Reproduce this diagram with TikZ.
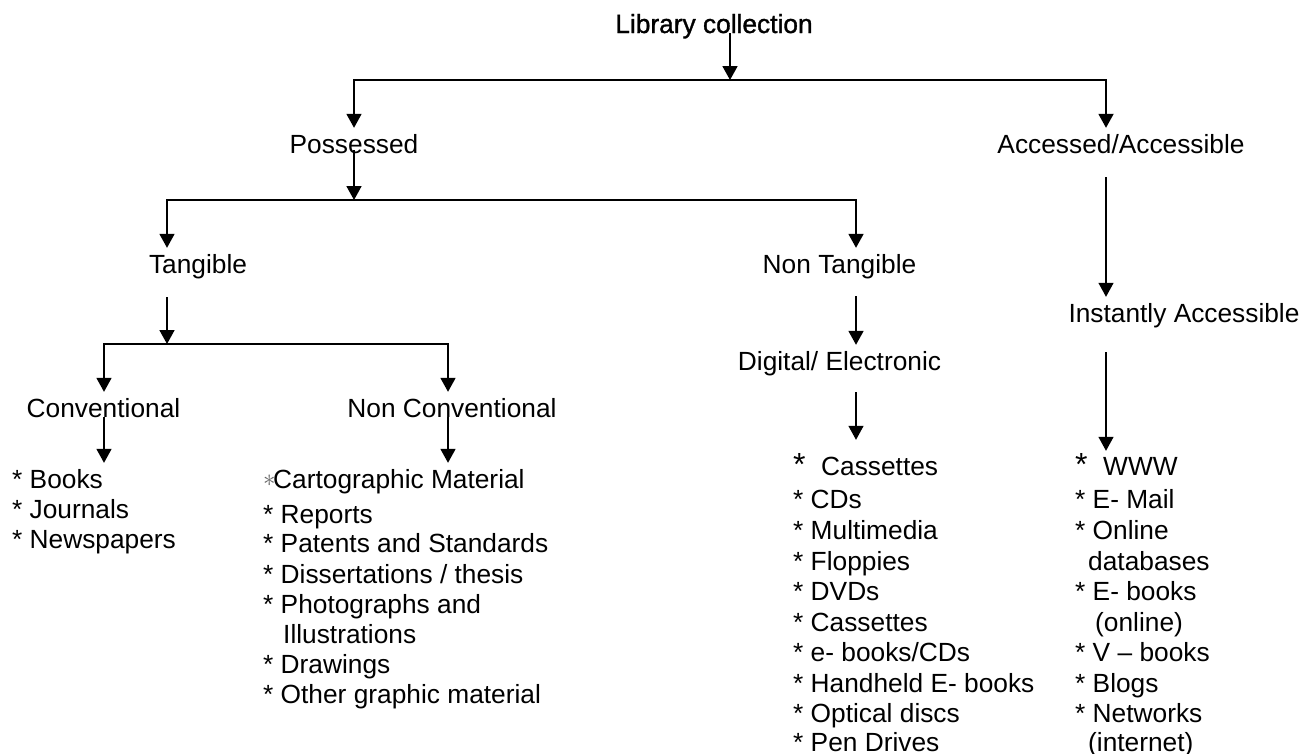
\documentclass[tikz,border=0pt]{standalone}
\usepackage{fontspec}
\setmainfont{Liberation Sans}
\newfontfamily\titlefont{Liberation Sans}[FakeBold=1.2]
\usetikzlibrary{arrows.meta,calc}
\newcommand{\bigast}{\makebox[28pt][l]{\fontsize{32}{32}\selectfont *}}
\newcommand{\grayast}{\makebox[10pt][l]{\color{black!60}\fontsize{24}{24}\selectfont\raisebox{1.5pt}{$\ast$}}}
\begin{document}
\begin{tikzpicture}[x=1pt,y=1pt,
  lbl/.style={anchor=base, inner xsep=0pt, inner ysep=6pt, text height=19pt, text depth=5.5pt, font=\fontsize{26.3}{30}\selectfont},
  item/.style={anchor=base west, inner sep=0pt, text height=19pt, text depth=5.5pt, font=\fontsize{26.3}{30}\selectfont},
  conn/.style={line width=1.8pt},
  arr/.style={conn, -{Triangle[width=15pt,length=14pt]}},
  thinarr/.style={arr, line width=1.4pt},
]
\useasboundingbox (0,0) rectangle (1309,-753);

% category labels
\node[lbl, font=\titlefont\fontsize{26.3}{30}\selectfont] (title) at (714,-33) {Library collection};
\node[lbl] (pos)   at (354,-153)   {Possessed};
\node[lbl] (acc)   at (1121,-153)  {Accessed/Accessible};
\node[lbl] (tang)  at (198,-273)   {Tangible};
\node[lbl] (ntang) at (839.5,-273) {Non Tangible};
\node[lbl] (inst)  at (1184,-322)  {Instantly Accessible};
\node[lbl] (dig)   at (839.5,-370) {Digital/ Electronic};
\node[lbl] (conv)  at (103.5,-417) {Conventional};
\node[lbl] (nconv) at (452,-417)   {Non Conventional};

% lists
\node[item] (b1) at (12,-488) {* Books};
\node[item] (b2) at (12,-518) {* Journals};
\node[item] (b3) at (12,-548) {* Newspapers};

\node[item] (n1) at (263,-488) {\grayast Cartographic Material};
\node[item] (n2) at (263,-523) {* Reports};
\node[item] (n3) at (263,-552) {* Patents and Standards};
\node[item] (n4) at (263,-583) {* Dissertations / thesis};
\node[item] (n5) at (263,-613) {* Photographs and};
\node[item] (n6) at (283,-643) {Illustrations};
\node[item] (n7) at (263,-673) {* Drawings};
\node[item] (n8) at (263,-703) {* Other graphic material};

\node[item] (d1)  at (793,-475) {\bigast Cassettes};
\node[item] (d2)  at (793,-508) {* CDs};
\node[item] (d3)  at (793,-539) {* Multimedia};
\node[item] (d4)  at (793,-570) {* Floppies};
\node[item] (d5)  at (793,-600) {* DVDs};
\node[item] (d6)  at (793,-631) {* Cassettes};
\node[item] (d7)  at (793,-661) {* e- books/CDs};
\node[item] (d8)  at (793,-692) {* Handheld E- books};
\node[item] (d9)  at (793,-722) {* Optical discs};
\node[item] (d10) at (793,-751) {* Pen Drives};

\node[item] (w1)  at (1075,-475) {\bigast WWW};
\node[item] (w2)  at (1075,-508) {* E- Mail};
\node[item] (w3)  at (1075,-539) {* Online};
\node[item] (w4)  at (1088,-570) {databases};
\node[item] (w5)  at (1075,-600) {* E- books};
\node[item] (w6)  at (1095,-631) {(online)};
\node[item] (w7)  at (1075,-661) {* V – books};
\node[item] (w8)  at (1075,-692) {* Blogs};
\node[item] (w9)  at (1075,-722) {* Networks};
\node[item] (w10) at (1088,-751) {(internet)};

% junctions
\coordinate (j0)  at (730,-80);
\coordinate (jP)  at (354,-80);
\coordinate (jA)  at (1106,-80);
\coordinate (j1)  at (354,-200);
\coordinate (jT)  at (167,-200);
\coordinate (jN)  at (856,-200);
\coordinate (j2)  at (167,-344);
\coordinate (jC)  at (104,-344);
\coordinate (jNC) at (448,-344);

% connectors
\draw[arr] (title.base -| j0) -- (j0);
\draw[arr] (j0) -- (jP) -- (jP |- pos.north);
\draw[arr] (j0) -- (jA) -- (jA |- acc.north);

\draw[arr] ($(pos.base -| j1)+(0,3)$) -- (j1);
\draw[arr] (j1) -- (jT) -- (jT |- tang.north);
\draw[arr] (j1) -- (jN) -- (jN |- ntang.north);

\draw[arr] ($(tang.base -| j2)+(0,-24)$) -- (j2);
\draw[arr] (j2) -- (jC) -- (jC |- conv.north);
\draw[arr] (j2) -- (jNC) -- (jNC |- nconv.north);

\draw[arr] (conv.base -| jC) -- ($(jC |- b1.north)+(0,6)$);
\draw[arr] (nconv.base -| jNC) -- ($(jNC |- n1.north)+(0,6)$);

\draw[arr] ($(ntang.base -| jN)+(0,-23)$) -- (jN |- dig.north);
\draw[thinarr] ($(dig.base -| jN)+(0,-22)$) -- ($(jN |- d1.north)+(0,16)$);

\draw[thinarr] ($(acc.base -| jA)+(0,-24)$) -- (jA |- inst.north);
\draw[thinarr] ($(inst.base -| jA)+(0,-30)$) -- ($(jA |- w1.north)+(0,5)$);
\end{tikzpicture}
\end{document}
